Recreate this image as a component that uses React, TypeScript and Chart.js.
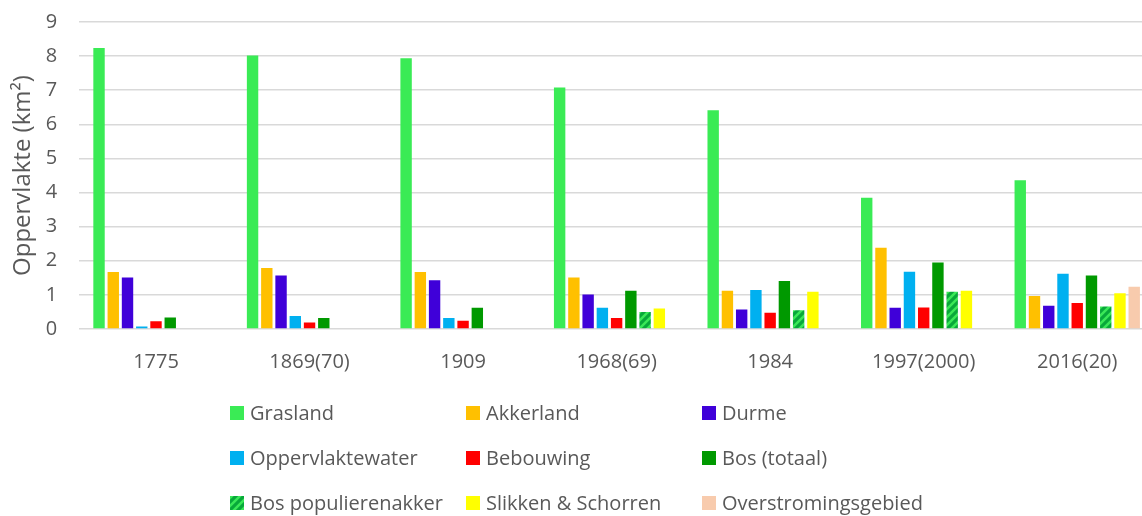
import React, { useEffect, useRef } from "react";
import { Chart, registerables } from "chart.js";

Chart.register(...registerables);

const categories = ["1775", "1869(70)", "1909", "1968(69)", "1984", "1997(2000)", "2016(20)"];
const seriesNames = [
  "Grasland",
  "Akkerland",
  "Durme",
  "Oppervlaktewater",
  "Bebouwing",
  "Bos (totaal)",
  "Bos populierenakker",
  "Slikken & Schorren",
  "Overstromingsgebied",
];
const grasland = [8.24, 8.02, 7.94, 7.08, 6.41, 3.85, 4.36];
const akkerland = [1.67, 1.79, 1.67, 1.51, 1.12, 2.38, 0.97];
const durme = [1.51, 1.57, 1.43, 1.01, 0.57, 0.62, 0.68];
const oppervlaktewater = [0.07, 0.38, 0.32, 0.62, 1.14, 1.68, 1.62];
const bebouwing = [0.23, 0.19, 0.24, 0.32, 0.48, 0.63, 0.76];
const bosTotaal = [0.34, 0.32, 0.62, 1.12, 1.41, 1.95, 1.57];
const bosPopulier = [null, null, null, 0.5, 0.55, 1.09, 0.66];
const slikken = [null, null, null, 0.6, 1.09, 1.12, 1.05];
const overstroming = [null, null, null, null, null, null, 1.24];
const yMin = 0;
const yMax = 9;
const yStep = 1;
const yTitle = "Oppervlakte (km²)";

const colors = ["#3AEB55", "#FFC000", "#3F00D9", "#00B0F0", "#FF0000", "#009900", "hatch", "#FFFF00", "#F8CBAD"];

function makeHatch(): CanvasPattern | string {
  const c = document.createElement("canvas");
  c.width = 8;
  c.height = 8;
  const g = c.getContext("2d");
  if (!g) return "#08A83A";
  g.fillStyle = "#08A83A";
  g.fillRect(0, 0, 8, 8);
  g.strokeStyle = "#3AE858";
  g.lineWidth = 2.5;
  g.beginPath();
  g.moveTo(-2, 10);
  g.lineTo(10, -2);
  g.moveTo(-6, 6);
  g.lineTo(6, -6);
  g.moveTo(2, 14);
  g.lineTo(14, 2);
  g.stroke();
  const p = g.createPattern(c, "repeat");
  return p || "#08A83A";
}

const FONT = "'Open Sans', sans-serif";
const TEXT = "#595959";

const gridLegend = {
  id: "gridLegend",
  afterDraw(chart: any) {
    const ctx = chart.ctx as CanvasRenderingContext2D;
    const startX = 230;
    const colW = 236;
    const startY = 413;
    const rowH = 45;
    ctx.save();
    ctx.font = `20px ${FONT}`;
    ctx.textBaseline = "middle";
    ctx.textAlign = "left";
    chart.data.datasets.forEach((ds: any, i: number) => {
      const col = i % 3;
      const row = Math.floor(i / 3);
      const x = startX + col * colW;
      const y = startY + row * rowH;
      ctx.fillStyle = ds.backgroundColor;
      ctx.fillRect(x, y - 7, 14, 14);
      ctx.fillStyle = TEXT;
      ctx.fillText(ds.label, x + 20, y + 1);
    });
    ctx.restore();
  },
};

export default function App() {
  const ref = useRef<HTMLCanvasElement | null>(null);
  useEffect(() => {
    if (!ref.current) return;
    const hatch = makeHatch();
    const values = [grasland, akkerland, durme, oppervlaktewater, bebouwing, bosTotaal, bosPopulier, slikken, overstroming];
    const chart = new Chart(ref.current, {
      type: "bar",
      data: {
        labels: categories,
        datasets: seriesNames.map((name, i) => ({
          label: name,
          data: values[i] as any,
          backgroundColor: colors[i] === "hatch" ? (hatch as any) : colors[i],
          borderWidth: 0,
          categoryPercentage: 0.835,
          barPercentage: 0.8,
        })),
      },
      options: {
        animation: false,
        responsive: true,
        maintainAspectRatio: false,
        layout: { padding: { top: 22, left: 9, right: 6, bottom: 129 } },
        plugins: {
          legend: { display: false },
          tooltip: { enabled: false },
        },
        scales: {
          x: {
            grid: { display: false },
            border: { display: false },
            ticks: { color: TEXT, font: { family: FONT, size: 20 }, padding: 13, maxRotation: 0 },
          },
          y: {
            min: yMin,
            max: yMax,
            ticks: { stepSize: yStep, color: TEXT, font: { family: FONT, size: 20 }, padding: 4 },
            grid: { color: "#D9D9D9", lineWidth: 1.5, drawTicks: true, tickLength: 18, tickColor: "rgba(0,0,0,0)" },
            border: { display: false },
            title: {
              display: true,
              text: yTitle,
              color: TEXT,
              font: { family: FONT, size: 24, weight: "normal" as any },
              padding: { top: 0, bottom: 4 },
            },
          },
        },
      },
      plugins: [gridLegend],
    });
    return () => chart.destroy();
  }, []);
  return (
    <div style={{ position: "fixed", left: 0, top: 0, width: "100vw", height: "100vh", overflow: "hidden", background: "#fff" }}>
      <div style={{ position: "relative", width: 1160, height: 516 }}>
        <canvas ref={ref} />
      </div>
    </div>
  );
}
